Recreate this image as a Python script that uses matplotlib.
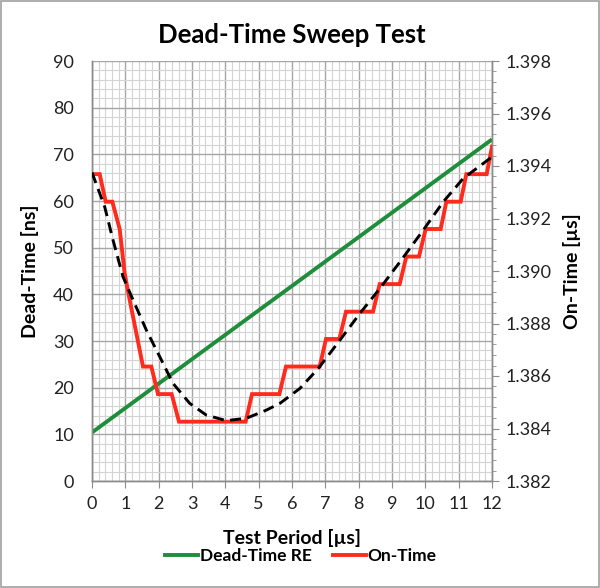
import matplotlib
matplotlib.use("Agg")
import matplotlib.pyplot as plt
from matplotlib.ticker import MultipleLocator, FormatStrFormatter
from matplotlib.lines import Line2D
from matplotlib.patches import Rectangle

plt.rcParams['font.family'] = ['Lato', 'DejaVu Sans']

# ---- data ----
dead_x = [0.0, 12.0]
dead_y = [10.4, 73.2]

on_x = [0.0, 0.23, 0.41, 0.61, 0.83, 0.98, 1.13, 1.53, 1.78, 1.98, 2.39, 2.61,
        4.61, 4.80, 5.62, 5.82, 6.83, 7.02, 7.42, 7.62, 8.43, 8.63, 9.23, 9.43,
        9.81, 10.01, 10.46, 10.63, 11.06, 11.23, 11.84, 12.0]
on_y = [1.39369, 1.39369, 1.39264, 1.39264, 1.39160, 1.38991, 1.38890, 1.38636,
        1.38636, 1.38531, 1.38531, 1.38426, 1.38426, 1.38531, 1.38531, 1.38636,
        1.38636, 1.38741, 1.38741, 1.38845, 1.38845, 1.38950, 1.38950, 1.39055,
        1.39055, 1.39160, 1.39160, 1.39264, 1.39264, 1.39369, 1.39369, 1.39474]

trend_x = [0.0, 0.38, 0.63, 0.93, 1.23, 1.63, 2.03, 2.43, 2.93, 3.43, 4.03, 4.63,
           5.23, 5.64, 6.24, 6.79, 7.44, 8.04, 8.64, 9.24, 9.94, 10.54, 11.14, 11.94, 12.0]
trend_y = [1.39375, 1.39245, 1.39118, 1.38978, 1.38890, 1.38775, 1.38674, 1.38572,
           1.38496, 1.38451, 1.38430, 1.38439, 1.38470, 1.38496, 1.38553, 1.38629,
           1.38737, 1.38839, 1.38934, 1.39035, 1.39156, 1.39264, 1.39353, 1.39429, 1.39436]

x_ticks = list(range(0, 13))
left_ticks = list(range(0, 91, 10))
right_ticks = [1.382, 1.384, 1.386, 1.388, 1.390, 1.392, 1.394, 1.396, 1.398]

GREEN = '#1e8e3a'
RED = '#ff2b1c'
SPINE = '#8c8c8c'
TXT = '#222222'

fig = plt.figure(figsize=(6.0, 5.88), dpi=100)
fig.patch.set_facecolor('white')
ax = fig.add_axes([92/600, 1-481/588, 400/600, 420/588])
ax2 = ax.twinx()

ax.set_xlim(0, 12)
ax.set_ylim(0, 90)
ax2.set_ylim(1.382, 1.398)

ax.set_xticks(x_ticks)
ax.set_yticks(left_ticks)
ax.xaxis.set_minor_locator(MultipleLocator(0.2))
ax.yaxis.set_minor_locator(MultipleLocator(2))
ax2.set_yticks(right_ticks)
ax2.yaxis.set_minor_locator(MultipleLocator(0.0004))
ax2.yaxis.set_major_formatter(FormatStrFormatter('%.3f'))

ax.grid(which='major', color='#a6a6a6', linewidth=1.0)
ax.grid(which='minor', color='#d4d4d4', linewidth=0.8)
ax.set_axisbelow(True)

for a in (ax, ax2):
    for s in a.spines.values():
        s.set_color(SPINE)
        s.set_linewidth(1.0)
ax.spines['top'].set_visible(False)
ax2.spines['top'].set_visible(False)

ax.tick_params(axis='x', which='major', direction='out', length=5, color=SPINE,
               labelsize=13, labelcolor=TXT, pad=6)
ax.tick_params(axis='x', which='minor', length=0)
ax.tick_params(axis='y', which='major', direction='out', length=0, color=SPINE,
               labelsize=13, labelcolor=TXT, pad=13)
ax.tick_params(axis='y', which='minor', length=0)
ax2.tick_params(axis='y', which='major', direction='out', length=5, color=SPINE,
                labelsize=13, labelcolor=TXT, pad=5)
ax2.tick_params(axis='y', which='minor', direction='out', length=3, color=SPINE)

ax.plot(dead_x, dead_y, color=GREEN, linewidth=2.8, solid_capstyle='butt', zorder=3)
ax2.plot(on_x, on_y, color=RED, linewidth=2.8, solid_joinstyle='miter', zorder=3)
ax2.plot(trend_x, trend_y, color='black', linewidth=2.1, dashes=(3.8, 2.2), zorder=4)

ax.set_title('Dead-Time Sweep Test', fontsize=18.5, fontweight='bold', color='black', pad=13)
ax.set_xlabel('Test Period [µs]', fontsize=14, fontweight='bold', color='black', labelpad=12)
ax.set_ylabel('Dead-Time [ns]', fontsize=14, fontweight='bold', color='black', labelpad=10)
ax2.set_ylabel('On-Time [µs]', fontsize=14, fontweight='bold', color='black', labelpad=8)

handles = [Line2D([], [], color=GREEN, linewidth=2.8),
           Line2D([], [], color=RED, linewidth=2.8)]
leg = fig.legend(handles, ['Dead-Time RE', 'On-Time'], loc='center',
                 bbox_to_anchor=(301/600, 1-556/588), ncol=2, frameon=False,
                 handlelength=1.9, handletextpad=0.1, columnspacing=1.2,
                 prop={'family': ['Lato', 'DejaVu Sans'], 'weight': 'bold', 'size': 12.5})

fig.patches.append(Rectangle((0.001, 0.001), 0.998, 0.998, transform=fig.transFigure,
                             fill=False, edgecolor='#a0a0a0', linewidth=1.2))

fig.savefig('out.png', dpi=100)
